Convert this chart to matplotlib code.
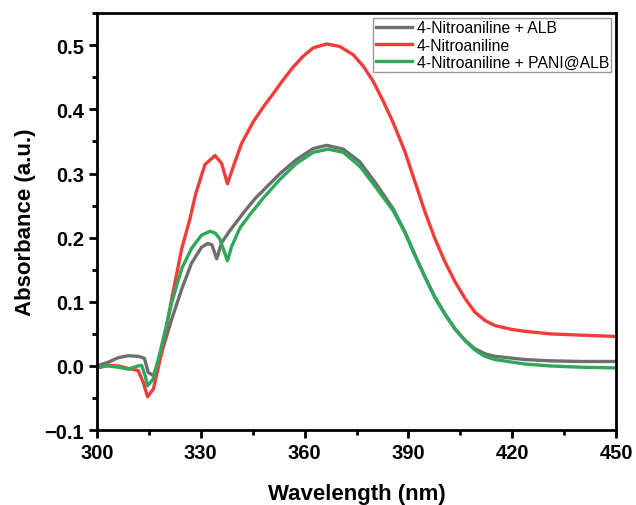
import matplotlib.pyplot as plt
from matplotlib.ticker import MultipleLocator

plt.rcParams['font.family'] = ['Liberation Sans', 'DejaVu Sans']

# 4-Nitroaniline + ALB
wl_alb = [300, 303.3, 306.2, 309.0, 311.9, 313.7, 314.8, 316.3, 318.7, 321.6, 324.5,
          327.3, 330.2, 332.0, 333.2, 334.6, 336.0, 338.4, 342.8, 345.7, 348.1, 352.9,
          357.7, 362.5, 366.4, 371.2, 376.0, 380.8, 385.6, 389.0, 391.9, 394.8, 397.7,
          400.6, 403.5, 406.4, 409.2, 412.1, 415.0, 423.7, 431, 440, 450]
abs_alb = [0.0, 0.006, 0.013, 0.016, 0.015, 0.012, -0.010, -0.015, 0.021, 0.073, 0.120,
           0.160, 0.185, 0.191, 0.189, 0.167, 0.192, 0.211, 0.242, 0.261, 0.274, 0.300,
           0.322, 0.339, 0.344, 0.338, 0.318, 0.283, 0.245, 0.209, 0.173, 0.139, 0.107,
           0.081, 0.058, 0.040, 0.027, 0.019, 0.015, 0.010, 0.008, 0.007, 0.007]

# 4-Nitroaniline
wl_na = [300, 303.3, 306.2, 309.0, 311.9, 313.4, 314.6, 316.3, 318.7, 321.6, 324.5,
         326.9, 328.5, 331.2, 334.1, 336.0, 337.7, 339.4, 341.8, 345.2, 348.1, 351.0,
         353.8, 356.7, 359.6, 362.5, 366.4, 370.2, 374.1, 377.0, 379.9, 382.8, 385.7,
         389.0, 391.9, 394.8, 397.7, 400.6, 403.5, 406.4, 409.2, 412.1, 415.0, 419.8,
         423.7, 431.0, 440, 450]
abs_na = [-0.003, 0.001, 0.0, -0.004, -0.007, -0.026, -0.048, -0.036, 0.021, 0.105, 0.183,
          0.230, 0.268, 0.314, 0.328, 0.316, 0.284, 0.311, 0.347, 0.381, 0.404, 0.425,
          0.446, 0.466, 0.483, 0.496, 0.502, 0.498, 0.485, 0.467, 0.443, 0.412, 0.378,
          0.334, 0.287, 0.240, 0.198, 0.162, 0.131, 0.105, 0.084, 0.071, 0.063, 0.057,
          0.054, 0.050, 0.048, 0.046]

# 4-Nitroaniline + PANI@ALB
wl_pani = [300, 303.3, 306.2, 309.0, 311.9, 312.9, 313.9, 314.6, 316.3, 318.7, 321.6,
           324.5, 327.3, 330.2, 332.7, 334.2, 335.5, 337.7, 338.9, 341.3, 344.2, 348.1,
           352.9, 357.7, 362.5, 366.8, 371.2, 376.0, 380.8, 385.6, 389.0, 391.9, 394.8,
           397.7, 400.6, 403.5, 406.4, 409.2, 412.1, 415.0, 423.7, 431, 440, 450]
abs_pani = [-0.002, 0.0, -0.002, -0.005, 0.0, 0.001, -0.015, -0.031, -0.020, 0.032, 0.099,
            0.152, 0.183, 0.204, 0.210, 0.207, 0.198, 0.164, 0.186, 0.215, 0.236, 0.262,
            0.291, 0.316, 0.333, 0.338, 0.333, 0.311, 0.277, 0.242, 0.208, 0.172, 0.138,
            0.106, 0.080, 0.057, 0.039, 0.025, 0.015, 0.010, 0.003, 0.0, -0.002, -0.003]

fig = plt.figure(figsize=(6.36, 5.06), dpi=100)
ax = fig.add_axes([0.1525, 0.148, 0.8161, 0.824])

ax.plot(wl_alb, abs_alb, color='#6e6e6e', lw=2.4, label='4-Nitroaniline + ALB')
ax.plot(wl_na, abs_na, color='#f23c3c', lw=2.4, label='4-Nitroaniline')
ax.plot(wl_pani, abs_pani, color='#2fa85c', lw=2.4, label='4-Nitroaniline + PANI@ALB')

ax.set_xlim(300, 450)
ax.set_ylim(-0.1, 0.55)
ax.xaxis.set_major_locator(MultipleLocator(30))
ax.xaxis.set_minor_locator(MultipleLocator(15))
ax.yaxis.set_minor_locator(MultipleLocator(0.05))
ax.set_yticks([-0.1, 0.0, 0.1, 0.2, 0.3, 0.4, 0.5])
ax.set_yticklabels(['\u22120.1', '0.0', '0.1', '0.2', '0.3', '0.4', '0.5'])

for s in ax.spines.values():
    s.set_linewidth(2)
ax.tick_params(which='major', direction='out', length=6, width=2, labelsize=14.5)
ax.tick_params(which='minor', direction='out', length=3.5, width=2)
for lab in ax.get_xticklabels() + ax.get_yticklabels():
    lab.set_fontweight('bold')

ax.set_xlabel('Wavelength (nm)', fontsize=16, fontweight='bold', labelpad=15)
ax.set_ylabel('Absorbance (a.u.)', fontsize=16, fontweight='bold', labelpad=6)

leg = ax.legend(loc='upper right', fontsize=11.3, frameon=True, fancybox=False,
                edgecolor='#808080', handlelength=2.3, handletextpad=0.3,
                borderpad=0.15, labelspacing=0.15, borderaxespad=0.3)
leg.get_frame().set_linewidth(1)

fig.savefig('out.png', dpi=100)
